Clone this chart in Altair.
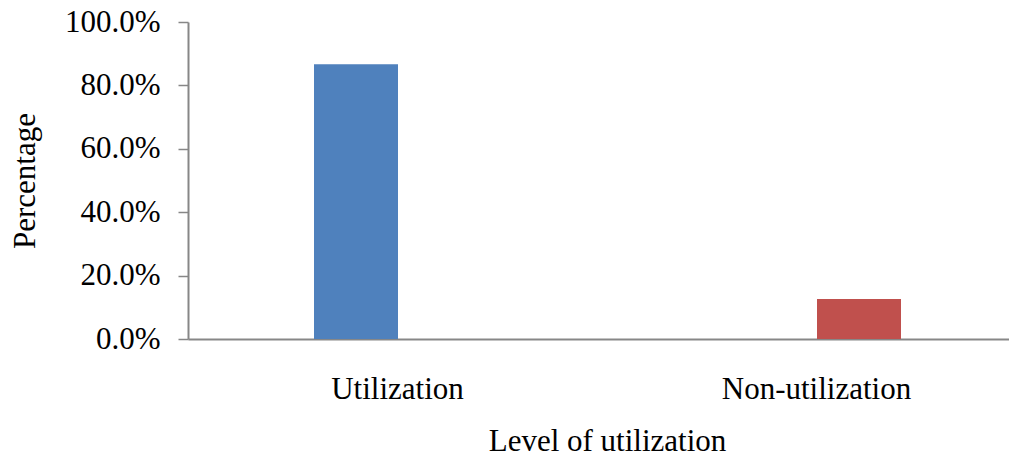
import altair as alt
import pandas as pd

categories = ["Utilization", "Non-utilization"]
values = [0.867, 0.126]
colors = ["#4F81BD", "#C0504D"]
y_ticks = [0.0, 0.2, 0.4, 0.6, 0.8, 1.0]

df = pd.DataFrame({"Level": categories, "Percentage": values})

FONT = "Liberation Serif"
AXIS_GRAY = "#878787"

chart = (
    alt.Chart(df)
    .mark_bar()
    .encode(
        x=alt.X(
            "Level:N",
            sort=categories,
            scale=alt.Scale(paddingInner=0, paddingOuter=0, range=[0, 838]),
            axis=alt.Axis(
                title="Level of utilization",
                labelAngle=0,
                ticks=False,
                tickSize=0,
                labelPadding=59,
                labelLimit=0,
                labelBaseline="alphabetic",
                labelFont=FONT,
                labelFontSize=31,
                labelColor="black",
                titleFont=FONT,
                titleFontSize=31,
                titleFontWeight="normal",
                titleColor="black",
                titleBaseline="alphabetic",
                titleY=111.5,
                titleLimit=0,
                domainColor=AXIS_GRAY,
                domainWidth=2,
                grid=False,
            ),
        ),
        xOffset=alt.XOffset(
            "Level:N",
            sort=categories,
            scale=alt.Scale(domain=categories, paddingInner=0, paddingOuter=0, range=[126, 294]),
        ),
        y=alt.Y(
            "Percentage:Q",
            scale=alt.Scale(domain=[0, 1], nice=False),
            axis=alt.Axis(
                title="Percentage",
                values=y_ticks,
                format=".1%",
                tickSize=10,
                tickWidth=1.5,
                tickColor=AXIS_GRAY,
                labelPadding=18,
                labelLimit=0,
                labelFont=FONT,
                labelFontSize=31,
                labelColor="black",
                titleFont=FONT,
                titleFontSize=31,
                titleFontWeight="normal",
                titleColor="black",
                titleAngle=270,
                titleAlign="center",
                titleBaseline="alphabetic",
                titleX=-154,
                titleY=158.5,
                titleLimit=0,
                domainColor=AXIS_GRAY,
                domainWidth=2,
                grid=False,
            ),
        ),
        color=alt.Color(
            "Level:N",
            scale=alt.Scale(domain=categories, range=colors),
            legend=None,
        ),
    )
    .properties(
        width=821,
        height=317,
        autosize=alt.AutoSizeParams(type="none"),
        padding={"left": 180, "top": 14, "right": 0, "bottom": 113},
    )
    .configure_view(stroke=None)
)

chart.save("out.html", embed_options={"renderer": "svg", "actions": False})
